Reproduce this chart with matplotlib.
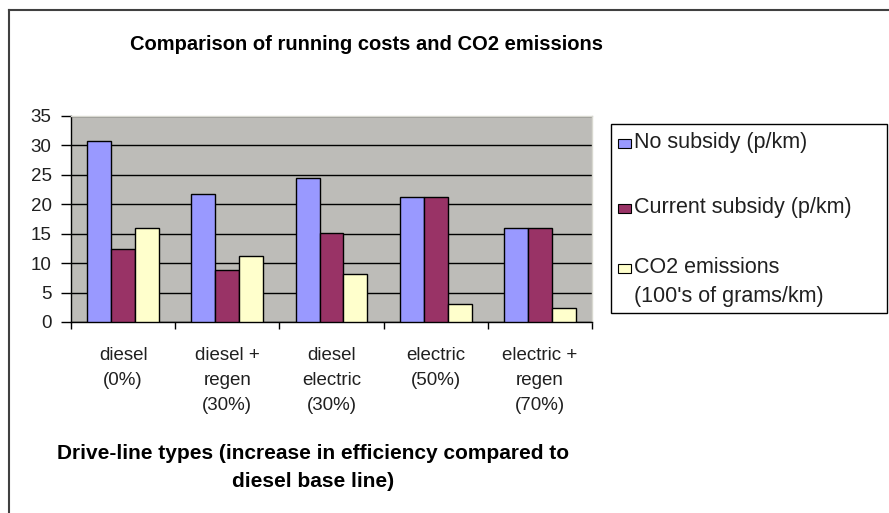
import numpy as np
import matplotlib.pyplot as plt
from matplotlib.patches import Rectangle
from matplotlib.lines import Line2D

plt.rcParams['font.family'] = ['Liberation Sans', 'DejaVu Sans']

# data
categories = ['diesel\n(0%)', 'diesel +\nregen\n(30%)', 'diesel\nelectric\n(30%)',
              'electric\n(50%)', 'electric +\nregen\n(70%)']
no_subsidy = [30.8, 21.7, 24.4, 21.3, 15.9]
current_subsidy = [12.4, 8.8, 15.2, 21.3, 15.9]
co2_emissions = [15.9, 11.2, 8.2, 3.0, 2.3]
series_labels = ['No subsidy (p/km)', 'Current subsidy (p/km)',
                 "CO2 emissions\n(100's of grams/km)"]
series_colors = ['#9999FF', '#993366', '#FFFFCC']
y_ticks = [0, 5, 10, 15, 20, 25, 30, 35]

W, H = 889, 513
fig = plt.figure(figsize=(W / 100, H / 100), dpi=100)
ax = fig.add_axes([71 / W, 1 - 322 / H, (592 - 71) / W, (322 - 116) / H])

ax.set_facecolor('#BDBCB8')
x = np.arange(len(categories))
bw = 0.23
for i, (vals, col) in enumerate(zip([no_subsidy, current_subsidy, co2_emissions], series_colors)):
    ax.bar(x + (i - 1) * bw, vals, bw, color=col, edgecolor='black', linewidth=1.0, zorder=3)

ax.set_xlim(-0.5, len(categories) - 0.5)
ax.set_ylim(0, 35)
ax.set_yticks(y_ticks)
ax.yaxis.grid(True, color='black', linewidth=1.0, zorder=1)
ax.set_axisbelow(True)

ax.set_xticks(x)
ax.set_xticklabels(categories, fontsize=13.5, linespacing=1.62, va='top', color='#202020')
ax.set_xticks(np.arange(len(categories) + 1) - 0.5, minor=True)
ax.tick_params(axis='x', which='major', length=0, pad=18)
ax.tick_params(axis='x', which='minor', length=5, width=1, direction='out')
ax.tick_params(axis='y', length=7, width=1, direction='out', labelsize=13.5, pad=7,
               labelcolor='#202020')

for s in ['top', 'right']:
    ax.spines[s].set_color('#D8D8D0')
    ax.spines[s].set_linewidth(1)
for s in ['left', 'bottom']:
    ax.spines[s].set_color('black')
    ax.spines[s].set_linewidth(1)

# title and axis title
fig.text(366 / W, 1 - 45 / H, 'Comparison of running costs and CO2 emissions',
         ha='center', va='center', fontsize=14.5, fontweight='bold')
fig.text(313 / W, 1 - 467.5 / H, 'Drive-line types (increase in efficiency compared to\ndiesel base line)',
         ha='center', va='center', fontsize=15, fontweight='bold', linespacing=1.6)

# legend box drawn by hand
fig.add_artist(Rectangle((611 / W, 1 - 313 / H), (887 - 611) / W, (313 - 124) / H,
                         transform=fig.transFigure, facecolor='white', edgecolor='black',
                         linewidth=1))
legend_y = [143, 208, 268]
for lab, col, ly in zip(series_labels, series_colors, legend_y):
    fig.add_artist(Rectangle((618 / W, 1 - (ly + 5) / H), 13 / W, 9 / H,
                             transform=fig.transFigure, facecolor=col,
                             edgecolor='black', linewidth=0.8))
    fig.text(634 / W, 1 - (ly - 11) / H, lab, ha='left', va='top', fontsize=15.5,
             linespacing=1.5, color='#202020')

# outer chart border (cropped at right and bottom)
fig.add_artist(Line2D([9 / W, 9 / W], [0, 1 - 10 / H], transform=fig.transFigure,
                      color='#404040', linewidth=1.5))
fig.add_artist(Line2D([9 / W, 1], [1 - 10 / H, 1 - 10 / H], transform=fig.transFigure,
                      color='#404040', linewidth=1.5))

fig.savefig('out.png', dpi=100)
